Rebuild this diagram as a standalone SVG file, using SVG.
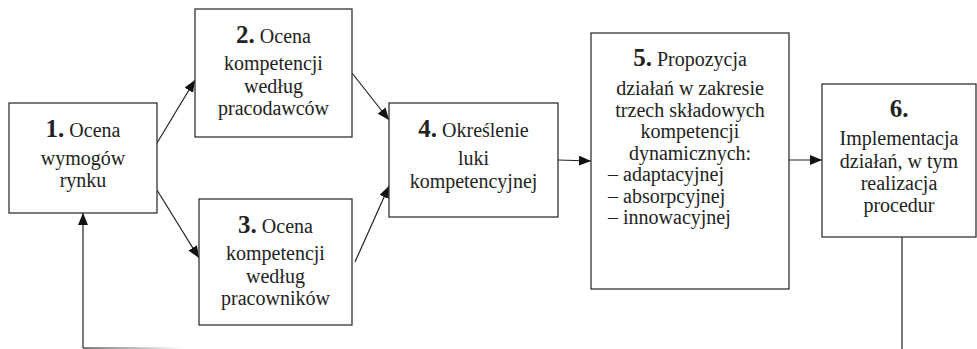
<svg xmlns="http://www.w3.org/2000/svg" width="977" height="349" viewBox="0 0 977 349">
<style>
.box{fill:#fff;stroke:#333;stroke-width:1.3}
.t{font-family:'Liberation Serif','DejaVu Serif',serif;font-size:20px;fill:#222;text-anchor:middle}
.l{text-anchor:start}
.n{font-weight:bold;font-size:25px}
.c{stroke:#222;stroke-width:1.2;fill:none}
</style>
<defs>
<marker id="ah" markerUnits="userSpaceOnUse" markerWidth="13" markerHeight="11" refX="12" refY="5" orient="auto">
<path d="M0,0 L12,5 L0,10 z" fill="#111"/>
</marker>
<linearGradient id="fade" x1="0" y1="0" x2="1" y2="0">
<stop offset="0" stop-color="#333"/>
<stop offset="1" stop-color="#fff"/>
</linearGradient>
</defs>
<g id="connectors">
<line class="c" x1="157" y1="143" x2="195" y2="80" marker-end="url(#ah)"/>
<line class="c" x1="157" y1="190" x2="199" y2="258" marker-end="url(#ah)"/>
<line class="c" x1="352" y1="73" x2="389" y2="120" marker-end="url(#ah)"/>
<line class="c" x1="355" y1="262" x2="389" y2="186" marker-end="url(#ah)"/>
<line class="c" x1="558" y1="160" x2="591" y2="161" marker-end="url(#ah)"/>
<line class="c" x1="789" y1="160" x2="822" y2="160" marker-end="url(#ah)"/>
<line class="c" x1="902" y1="237" x2="902" y2="349"/>
<line class="c" x1="83" y1="348" x2="83" y2="213" marker-end="url(#ah)"/>
<rect x="83" y="347.4" width="100" height="1.3" fill="url(#fade)"/>
</g>
<g id="node1">
<rect class="box" x="9" y="103" width="148" height="110"/>
<text class="t" x="83" y="137"><tspan class="n">1.</tspan> Ocena</text>
<text class="t" x="83" y="165">wymogów</text>
<text class="t" x="83" y="187">rynku</text>
</g>
<g id="node2">
<rect class="box" x="195" y="9" width="157" height="128"/>
<text class="t" x="273.5" y="43"><tspan class="n">2.</tspan> Ocena</text>
<text class="t" x="273.5" y="70">kompetencji</text>
<text class="t" x="273.5" y="92.5">według</text>
<text class="t" x="273.5" y="115">pracodawców</text>
</g>
<g id="node3">
<rect class="box" x="199" y="199" width="153" height="126"/>
<text class="t" x="275.5" y="233"><tspan class="n">3.</tspan> Ocena</text>
<text class="t" x="275.5" y="260">kompetencji</text>
<text class="t" x="275.5" y="282.5">według</text>
<text class="t" x="275.5" y="305">pracowników</text>
</g>
<g id="node4">
<rect class="box" x="389" y="103" width="169" height="114"/>
<text class="t" x="473.5" y="137"><tspan class="n">4.</tspan> Określenie</text>
<text class="t" x="473.5" y="165">luki</text>
<text class="t" x="473.5" y="188">kompetencyjnej</text>
</g>
<g id="node5">
<rect class="box" x="591" y="33" width="198" height="256"/>
<text class="t" x="690" y="66"><tspan class="n">5.</tspan> Propozycja</text>
<text class="t" x="690" y="95">działań w zakresie</text>
<text class="t" x="690" y="116.5">trzech składowych</text>
<text class="t" x="690" y="138">kompetencji</text>
<text class="t" x="690" y="159.5">dynamicznych:</text>
<text class="t l" x="608" y="181">– adaptacyjnej</text>
<text class="t l" x="608" y="202.5">– absorpcyjnej</text>
<text class="t l" x="608" y="224">– innowacyjnej</text>
</g>
<g id="node6">
<rect class="box" x="822" y="84" width="154" height="153"/>
<text class="t n" x="899" y="117">6.</text>
<text class="t" x="899" y="145">Implementacja</text>
<text class="t" x="899" y="167.5">działań, w tym</text>
<text class="t" x="899" y="190">realizacja</text>
<text class="t" x="899" y="212">procedur</text>
</g>
</svg>
